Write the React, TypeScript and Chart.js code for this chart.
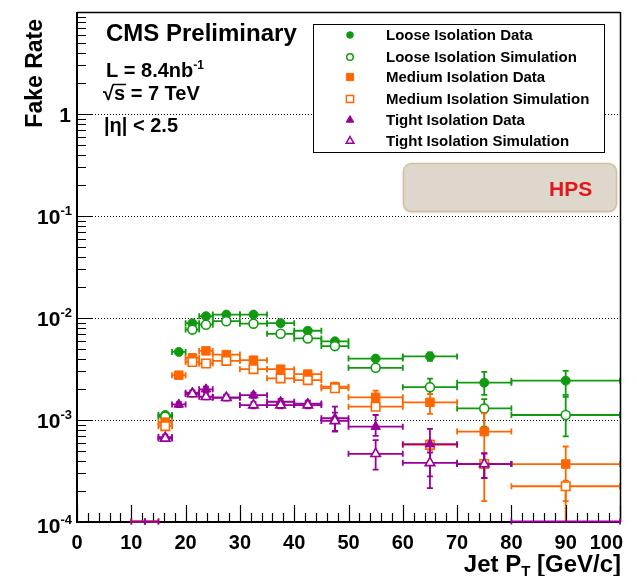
import React, { useEffect, useRef } from 'react';
import { Chart, registerables } from 'chart.js';

Chart.register(...registerables);

// ---- bins (Jet pT, GeV/c) ----
const binLow = [10, 12.5, 15, 17.5, 20, 22.5, 25, 30, 35, 40, 45, 50, 60, 70, 80];
const binHigh = [12.5, 15, 17.5, 20, 22.5, 25, 30, 35, 40, 45, 50, 60, 70, 80, 100];
const ptX = [11.25, 13.75, 16.25, 18.75, 21.25, 23.75, 27.5, 32.5, 37.5, 42.5, 47.5, 55, 65, 75, 90];

// ---- fake rates (null = no point, 0 = zero / off-scale) ----
const looseData = [null, null, 0.00112, 0.00465, 0.0089, 0.0104, 0.0108, 0.0108, 0.0089, 0.0075, 0.0059, 0.0040, 0.0042, 0.00232, 0.00243];
const looseDataUp = [0, 0, 0.00008, 0.0002, 0.0004, 0.0005, 0.0005, 0.0005, 0.0004, 0.0004, 0.0003, 0.0002, 0.0004, 0.00065, 0.0006];
const looseDataDown = [0, 0, 0.00008, 0.0002, 0.0004, 0.0005, 0.0005, 0.0005, 0.0004, 0.0004, 0.0003, 0.0002, 0.0004, 0.00056, 0.00067];

const looseSim = [null, null, 0.00108, null, 0.0077, 0.0086, 0.0093, 0.0088, 0.0070, 0.0063, 0.0053, 0.00325, 0.0021, 0.0013, 0.00112];
const looseSimUp = [0, 0, 0.00008, 0, 0.0003, 0.0003, 0.0003, 0.0003, 0.0003, 0.0003, 0.0003, 0.0002, 0.00045, 0.0003, 0.00057];
const looseSimDown = [0, 0, 0.00008, 0, 0.0003, 0.0003, 0.0003, 0.0003, 0.0003, 0.0003, 0.0003, 0.0002, 0.0003, 0.00044, 0.00043];

const mediumData = [0, 0, 0.00095, 0.00275, 0.00407, 0.00476, 0.00438, 0.00386, 0.00315, 0.00282, 0.00212, 0.00167, 0.00149, 0.00077, 0.00037];
const mediumDataUp = [0, 0, 0.00008, 0.00015, 0.0002, 0.00025, 0.0002, 0.0002, 0.0002, 0.0002, 0.0002, 0.00027, 0.00031, 0.00039, 0.00018];
const mediumDataDown = [0, 0, 0.00008, 0.00015, 0.0002, 0.00025, 0.0002, 0.0002, 0.0002, 0.0002, 0.0002, 0.00022, 0.00034, 0.00061, 0.00037];

const mediumSim = [null, null, 0.00087, null, 0.0037, 0.00358, 0.0038, 0.00315, 0.00256, 0.00246, 0.00205, 0.00135, 0.00057, 0.00037, 0.000224];
const mediumSimUp = [0, 0, 0.00006, 0, 0.0002, 0.0002, 0.0002, 0.0002, 0.00015, 0.00015, 0.00015, 0.0001, 0.00006, 0.0001, 0.00003];
const mediumSimDown = [0, 0, 0.00006, 0, 0.0002, 0.0002, 0.0002, 0.0002, 0.00015, 0.00015, 0.00015, 0.0001, 0.00006, 0.0001, 0.000064];

const tightData = [0, 0, 0.00068, 0.00142, 0.00185, 0.0020, 0.00167, 0.00175, 0.00151, 0.00145, 0.00104, 0.00086, 0.00058, 0.00037, 0];
const tightDataUp = [0, 0, 0.00004, 0.00008, 0.0001, 0.00012, 0.0001, 0.0001, 0.0001, 0.0001, 0.00031, 0.00026, 0.00024, 0.0001, 0];
const tightDataDown = [0, 0, 0.00004, 0.00008, 0.0001, 0.00012, 0.0001, 0.0001, 0.0001, 0.0001, 0.00027, 0.00016, 0.000365, 0.0001, 0];

const tightSim = [null, null, 0.00066, null, 0.0018, 0.00169, 0.00165, 0.0014, 0.0014, 0.0014, 0.00098, 0.000466, 0.00038, 0.00037, null];
const tightSimUp = [0, 0, 0.00004, 0, 0.0001, 0.0001, 0.0001, 0.0001, 0.0001, 0.0001, 0.0002, 0.00017, 0.0001, 0.0001, 0];
const tightSimDown = [0, 0, 0.00004, 0, 0.0001, 0.0001, 0.0001, 0.0001, 0.0001, 0.0001, 0.0002, 0.00014, 0.0001, 0.0001, 0];

// ---- tick labels ----
const xTickLabels = ['0', '10', '20', '30', '40', '50', '60', '70', '80', '90', '100'];
const yTickValues = [1e-4, 1e-3, 1e-2, 1e-1, 1];
const yTickExponents = ['-4', '-3', '-2', '-1', ''];

const legendLabels = [
  'Loose Isolation Data',
  'Loose Isolation Simulation',
  'Medium Isolation Data',
  'Medium Isolation Simulation',
  'Tight Isolation Data',
  'Tight Isolation Simulation',
];

const GREEN = '#119a11';
const ORANGE = '#ff6600';
const PURPLE = '#990099';
const FONT = '"Liberation Sans", Arial, Helvetica, sans-serif';
const bold = (s: number) => `bold ${s}px ${FONT}`;

type Series = {
  label: string;
  values: (number | null)[];
  up: number[];
  down: number[];
  color: string;
  style: 'circle' | 'rect' | 'triangle';
  filled: boolean;
  radius: number;
};

const series: Series[] = [
  { label: legendLabels[0], values: looseData, up: looseDataUp, down: looseDataDown, color: GREEN, style: 'circle', filled: true, radius: 4.5 },
  { label: legendLabels[1], values: looseSim, up: looseSimUp, down: looseSimDown, color: GREEN, style: 'circle', filled: false, radius: 4.5 },
  { label: legendLabels[2], values: mediumData, up: mediumDataUp, down: mediumDataDown, color: ORANGE, style: 'rect', filled: true, radius: 6 },
  { label: legendLabels[3], values: mediumSim, up: mediumSimUp, down: mediumSimDown, color: ORANGE, style: 'rect', filled: false, radius: 6 },
  { label: legendLabels[4], values: tightData, up: tightDataUp, down: tightDataDown, color: PURPLE, style: 'triangle', filled: true, radius: 5.5 },
  { label: legendLabels[5], values: tightSim, up: tightSimUp, down: tightSimDown, color: PURPLE, style: 'triangle', filled: false, radius: 5.5 },
];

type Run = { t: string; size: number; dy: number };

function runsWidth(ctx: CanvasRenderingContext2D, runs: Run[]) {
  let w = 0;
  for (const r of runs) {
    ctx.font = bold(r.size);
    w += ctx.measureText(r.t).width;
  }
  return w;
}

function drawRuns(ctx: CanvasRenderingContext2D, runs: Run[], x: number, y: number, align: 'left' | 'right' = 'left') {
  const w = runsWidth(ctx, runs);
  let cx = align === 'right' ? x - w : x;
  ctx.textAlign = 'left';
  ctx.textBaseline = 'alphabetic';
  for (const r of runs) {
    ctx.font = bold(r.size);
    ctx.fillText(r.t, cx, y + r.dy);
    cx += ctx.measureText(r.t).width;
  }
  return w;
}

function drawMarker(ctx: CanvasRenderingContext2D, style: string, x: number, y: number, r: number, color: string, filled: boolean, lw: number) {
  ctx.beginPath();
  if (style === 'circle') {
    ctx.arc(x, y, r, 0, Math.PI * 2);
  } else if (style === 'rect') {
    const s = r;
    ctx.rect(x - s, y - s, 2 * s, 2 * s);
  } else {
    ctx.moveTo(x, y - r);
    ctx.lineTo(x + r * 0.866, y + r * 0.5);
    ctx.lineTo(x - r * 0.866, y + r * 0.5);
    ctx.closePath();
  }
  ctx.fillStyle = filled ? color : '#ffffff';
  ctx.fill();
  ctx.strokeStyle = color;
  ctx.lineWidth = lw;
  ctx.stroke();
}

function drawXBar(ctx: CanvasRenderingContext2D, x0: number, x1: number, py: number, cap: number) {
  ctx.beginPath();
  ctx.moveTo(x0, py);
  ctx.lineTo(x1, py);
  ctx.moveTo(x0, py - cap);
  ctx.lineTo(x0, py + cap);
  ctx.moveTo(x1, py - cap);
  ctx.lineTo(x1, py + cap);
  ctx.stroke();
}

const rootPlugin = {
  id: 'rootStyle',
  beforeDatasetsDraw(chart: any) {
    const { ctx, chartArea: a, scales } = chart;
    const ys = scales.y;
    ctx.save();
    ctx.strokeStyle = '#000';
    ctx.lineWidth = 1;
    ctx.setLineDash([1, 2]);
    for (const v of yTickValues) {
      if (v <= ys.min) continue;
      const py = Math.round(ys.getPixelForValue(v)) + 0.5;
      ctx.beginPath();
      ctx.moveTo(a.left, py);
      ctx.lineTo(a.right, py);
      ctx.stroke();
    }
    ctx.restore();
  },
  beforeDatasetDraw(chart: any, args: any) {
    const s = series[args.index];
    if (!s) return;
    const { ctx, chartArea: a, scales } = chart;
    const xs = scales.x;
    const ys = scales.y;
    const cap = 3;
    ctx.save();
    ctx.beginPath();
    ctx.rect(a.left, a.top, a.right - a.left, a.bottom - a.top);
    ctx.clip();
    ctx.strokeStyle = s.color;
    ctx.lineWidth = 1.8;
    ctx.setLineDash([]);
    s.values.forEach((v, j) => {
      if (v === null || v === undefined || v <= 0) return;
      const x0 = xs.getPixelForValue(binLow[j]);
      const x1 = xs.getPixelForValue(binHigh[j]);
      const xc = xs.getPixelForValue(ptX[j]);
      const py = ys.getPixelForValue(v);
      drawXBar(ctx, x0, x1, py, cap);
      const hi = v + s.up[j];
      const lo = v - s.down[j];
      const pHi = ys.getPixelForValue(hi);
      const pLo = lo > ys.min ? ys.getPixelForValue(lo) : a.bottom + 2;
      ctx.beginPath();
      ctx.moveTo(xc, pHi);
      ctx.lineTo(xc, pLo);
      ctx.moveTo(xc - cap, pHi);
      ctx.lineTo(xc + cap, pHi);
      if (lo > ys.min) {
        ctx.moveTo(xc - cap, pLo);
        ctx.lineTo(xc + cap, pLo);
      }
      ctx.stroke();
    });
    ctx.restore();
  },
  afterDatasetsDraw(chart: any) {
    const { ctx, chartArea: a, scales } = chart;
    const xs = scales.x;
    const ys = scales.y;
    ctx.save();
    ctx.setLineDash([]);
    ctx.strokeStyle = '#000';
    ctx.fillStyle = '#000';

    // frame
    ctx.lineWidth = 1.5;
    ctx.beginPath();
    ctx.moveTo(a.left, a.top + 0.5);
    ctx.lineTo(a.right, a.top + 0.5);
    ctx.moveTo(a.right + 0.5, a.top);
    ctx.lineTo(a.right + 0.5, a.bottom);
    ctx.stroke();
    ctx.lineWidth = 2;
    ctx.beginPath();
    ctx.moveTo(a.left, a.top);
    ctx.lineTo(a.left, a.bottom);
    ctx.lineTo(a.right + 1, a.bottom);
    ctx.stroke();

    // y ticks
    ctx.lineWidth = 1.2;
    ctx.beginPath();
    for (let e = -4; e <= 0; e++) {
      const base = Math.pow(10, e);
      const pMaj = Math.round(ys.getPixelForValue(base)) + 0.5;
      if (e > -4) {
        ctx.moveTo(a.left, pMaj);
        ctx.lineTo(a.left + 16, pMaj);
      }
      for (let m = 2; m <= 9; m++) {
        const p = Math.round(ys.getPixelForValue(m * base)) + 0.5;
        ctx.moveTo(a.left, p);
        ctx.lineTo(a.left + 9, p);
      }
    }
    ctx.stroke();

    // x ticks
    ctx.beginPath();
    for (let v = 0; v <= 100; v += 2) {
      const p = Math.round(xs.getPixelForValue(v)) + 0.5;
      const len = v % 10 === 0 ? 17 : 9;
      ctx.moveTo(p, a.bottom);
      ctx.lineTo(p, a.bottom - len);
    }
    ctx.stroke();

    // zero-valued bins drawn along the lower axis
    series.forEach((s) => {
      ctx.strokeStyle = s.color;
      ctx.lineWidth = 1.8;
      s.values.forEach((v, j) => {
        if (v !== 0) return;
        drawXBar(ctx, xs.getPixelForValue(binLow[j]), xs.getPixelForValue(binHigh[j]), a.bottom - 0.5, 3);
      });
    });
    ctx.strokeStyle = '#000';
    ctx.fillStyle = '#000';

    // x tick labels
    ctx.font = bold(20);
    ctx.textBaseline = 'alphabetic';
    for (const lab of xTickLabels) {
      const px = xs.getPixelForValue(Number(lab));
      ctx.font = bold(20);
      const w = ctx.measureText(lab).width;
      ctx.textAlign = 'left';
      const left = Math.min(px - w / 2, 623 - w);
      ctx.fillText(lab, left, 549);
    }

    // y tick labels
    yTickValues.forEach((v, k) => {
      const py = ys.getPixelForValue(v);
      const ex = yTickExponents[k];
      if (ex === '') {
        drawRuns(ctx, [{ t: '1', size: 21, dy: 0 }], 71, py + 7.5, 'right');
      } else {
        const off = v <= ys.min ? 3 : 0;
        drawRuns(ctx, [{ t: '10', size: 21, dy: 0 }, { t: ex, size: 13, dy: -9 }], 72, py + 7.5 + off, 'right');
      }
    });

    // axis titles
    drawRuns(ctx, [{ t: 'Jet P', size: 24, dy: 0 }, { t: 'T', size: 15, dy: 4 }, { t: ' [GeV/c]', size: 24, dy: 0 }], 621, 572, 'right');
    ctx.save();
    ctx.translate(42, 19);
    ctx.rotate(-Math.PI / 2);
    ctx.font = bold(23);
    ctx.textAlign = 'right';
    ctx.textBaseline = 'alphabetic';
    ctx.fillText('Fake Rate', 0, 0);
    ctx.restore();

    // header texts
    ctx.fillStyle = '#000';
    drawRuns(ctx, [{ t: 'CMS Preliminary', size: 24, dy: 0 }], 106, 41);
    drawRuns(ctx, [{ t: 'L = 8.4nb', size: 20, dy: 0 }, { t: '-1', size: 12, dy: -8 }], 106, 77);
    ctx.font = bold(20);
    const sqrtW = ctx.measureText('\u221A').width;
    const sW = ctx.measureText('s').width;
    drawRuns(ctx, [{ t: '\u221As = 7 TeV', size: 20, dy: 0 }], 103, 100);
    ctx.lineWidth = 1.5;
    ctx.beginPath();
    ctx.moveTo(103 + sqrtW - 1, 84.5);
    ctx.lineTo(103 + sqrtW + sW + 1, 84.5);
    ctx.stroke();
    drawRuns(ctx, [{ t: '|\u03B7| < 2.5', size: 20, dy: 0 }], 104, 132);

    // legend
    ctx.fillStyle = '#fff';
    ctx.fillRect(313, 24, 291, 128);
    ctx.strokeStyle = '#000';
    ctx.lineWidth = 1;
    ctx.strokeRect(313.5, 24.5, 291, 128);
    const rows = [35, 57, 77, 99, 120, 141];
    series.forEach((s, i) => {
      const sz = s.style === 'circle' ? 3.3 : s.style === 'rect' ? 3.6 : 4.4;
      drawMarker(ctx, s.style, 350, rows[i], sz, s.color, s.filled, s.filled ? 1 : 1.5);
      ctx.fillStyle = '#000';
      ctx.font = bold(15);
      ctx.textAlign = 'left';
      ctx.textBaseline = 'middle';
      ctx.fillText(s.label, 386, rows[i] + 1);
    });

    // HPS box
    ctx.save();
    ctx.shadowColor = 'rgba(0,0,0,0.18)';
    ctx.shadowBlur = 3;
    ctx.shadowOffsetY = 1;
    ctx.beginPath();
    (ctx as any).roundRect(403.5, 163.5, 213, 48, 8);
    ctx.fillStyle = '#ded7cb';
    ctx.fill();
    ctx.restore();
    ctx.beginPath();
    (ctx as any).roundRect(403.5, 163.5, 213, 48, 8);
    ctx.strokeStyle = '#d3c09e';
    ctx.lineWidth = 1.5;
    ctx.stroke();
    ctx.fillStyle = '#e3161b';
    ctx.font = bold(21);
    ctx.textAlign = 'left';
    ctx.textBaseline = 'alphabetic';
    ctx.fillText('HPS', 549, 196);

    ctx.restore();
  },
};

export default function App() {
  const ref = useRef<HTMLCanvasElement | null>(null);
  useEffect(() => {
    if (!ref.current) return;
    const chart = new Chart(ref.current, {
      type: 'scatter',
      data: {
        datasets: series.map((s, i) => ({
          label: s.label,
          data: ptX
            .map((x, j) => ({ x, y: s.values[j] as number | null }))
            .filter((p) => p.y !== null && (p.y as number) > 0),
          pointStyle: s.style,
          pointRadius: s.radius,
          pointHoverRadius: s.radius,
          pointBackgroundColor: s.filled ? s.color : '#ffffff',
          pointBorderColor: s.color,
          pointBorderWidth: s.filled ? 1 : 1.6,
          showLine: false,
          order: series.length - i,
        })),
      },
      options: {
        responsive: false,
        animation: false,
        devicePixelRatio: 1,
        layout: { padding: { left: 77, right: 17, top: 12, bottom: 54 } },
        plugins: { legend: { display: false }, tooltip: { enabled: false } },
        events: [],
        scales: {
          x: { type: 'linear', min: 0, max: 100, display: false },
          y: { type: 'logarithmic', min: 1e-4, max: 10, display: false },
        },
      } as any,
      plugins: [rootPlugin],
    });
    return () => chart.destroy();
  }, []);
  return (
    <div style={{ position: 'absolute', left: 0, top: 0, width: 637, height: 576, background: '#fff' }}>
      <canvas ref={ref} width={637} height={576} style={{ width: 637, height: 576, display: 'block' }} />
    </div>
  );
}
